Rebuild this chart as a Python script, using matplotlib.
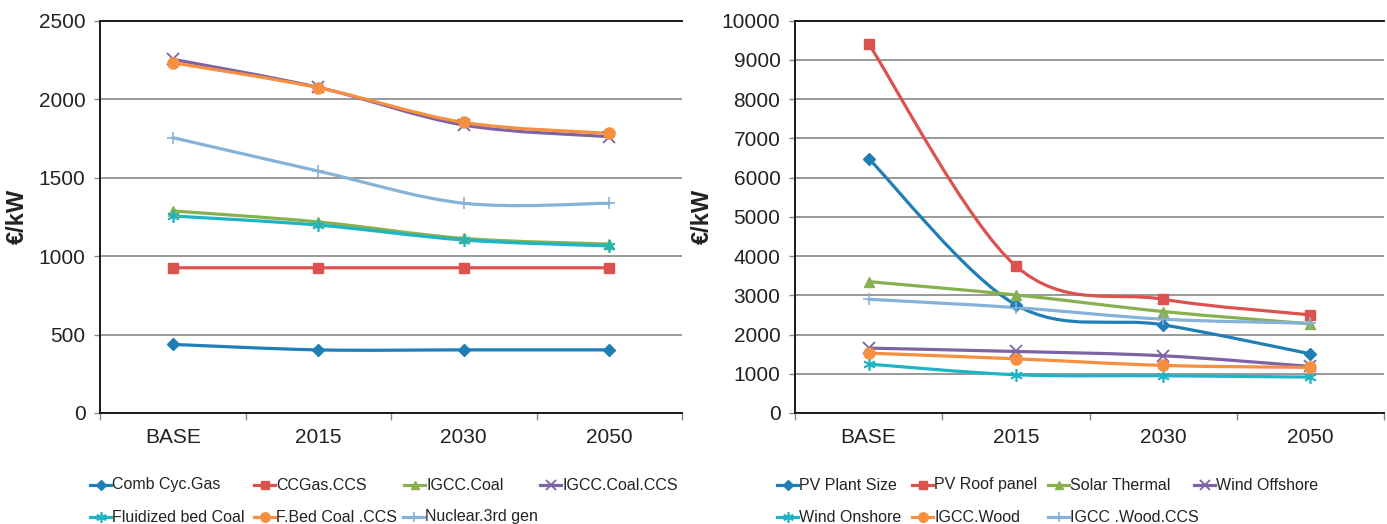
import matplotlib
matplotlib.use("Agg")
import matplotlib.pyplot as plt
from matplotlib.path import Path
from matplotlib.patches import PathPatch
from matplotlib.lines import Line2D
import numpy as np

plt.rcParams['font.family'] = ['Liberation Sans', 'DejaVu Sans']

# ---------------- data ----------------
categories = ["BASE", "2015", "2030", "2050"]

left_names = ["Comb Cyc.Gas", "CCGas.CCS", "IGCC.Coal", "IGCC.Coal.CCS",
              "Fluidized bed Coal", "F.Bed Coal .CCS", "Nuclear.3rd gen"]
comb_cyc_gas = [437, 402, 402, 402]
ccgas_ccs = [925, 925, 925, 925]
igcc_coal = [1287, 1217, 1112, 1076]
igcc_coal_ccs = [2253, 2074, 1834, 1760]
fluidized_bed_coal = [1255, 1197, 1102, 1064]
fbed_coal_ccs = [2231, 2072, 1851, 1781]
nuclear_3rd_gen = [1754, 1541, 1336, 1336]
left_values = [comb_cyc_gas, ccgas_ccs, igcc_coal, igcc_coal_ccs,
               fluidized_bed_coal, fbed_coal_ccs, nuclear_3rd_gen]

right_names = ["PV Plant Size", "PV Roof panel", "Solar Thermal", "Wind Offshore",
               "Wind Onshore", "IGCC.Wood", "IGCC .Wood.CCS"]
pv_plant_size = [6483, 2754, 2246, 1508]
pv_roof_panel = [9407, 3746, 2898, 2500]
solar_thermal = [3347, 3008, 2585, 2271]
wind_offshore = [1653, 1568, 1458, 1186]
wind_onshore = [1246, 975, 949, 915]
igcc_wood = [1525, 1381, 1212, 1161]
igcc_wood_ccs = [2898, 2686, 2390, 2288]
right_values = [pv_plant_size, pv_roof_panel, solar_thermal, wind_offshore,
                wind_onshore, igcc_wood, igcc_wood_ccs]

left_yticks = [0, 500, 1000, 1500, 2000, 2500]
right_yticks = [0, 1000, 2000, 3000, 4000, 5000, 6000, 7000, 8000, 9000, 10000]

# ---------------- styles ----------------
colors = ['#1F7EB5', '#DC524F', '#87B04F', '#7D62A4', '#1DB5C4', '#F68F40', '#86B2D9']
markers = ['D', 's', '^', 'x', (6, 2, 0), 'o', '+']
msizes = [6, 7, 7.5, 8, 9, 8, 9]
mews = [1, 1, 1, 1.3, 1.2, 1, 1.2]

W, H = 1387, 524
fig = plt.figure(figsize=(W / 100, H / 100), dpi=100)


def px_rect(x0, x1, ytop, ybot):
    return [x0 / W, (H - ybot) / H, (x1 - x0) / W, (ybot - ytop) / H]


def smooth_patch(xs, ys, color):
    P = np.column_stack([xs, ys]).astype(float)
    n = len(P)
    verts = [P[0]]
    codes = [Path.MOVETO]
    for i in range(n - 1):
        p_prev = P[i - 1] if i > 0 else P[i]
        p_next2 = P[i + 2] if i + 2 < n else P[i + 1]
        c1 = P[i] + (P[i + 1] - p_prev) / 6.0
        c2 = P[i + 1] - (p_next2 - P[i]) / 6.0
        verts += [c1, c2, P[i + 1]]
        codes += [Path.CURVE4] * 3
    return PathPatch(Path(verts, codes), facecolor='none', edgecolor=color,
                     lw=2.3, capstyle='round', joinstyle='round', zorder=3)


def setup_axes(ax, ymax, yticks, label_x):
    x = np.arange(len(categories))
    ax.set_xlim(-0.5, len(categories) - 0.5)
    ax.set_ylim(0, ymax)
    ax.set_yticks(yticks)
    ax.set_yticklabels([str(t) for t in yticks])
    ax.set_xticks(np.arange(-0.5, len(categories)), labels=[])
    ax.set_xticks(x, minor=True)
    ax.set_xticklabels(categories, minor=True)
    ax.tick_params(axis='x', which='major', length=5, width=1, color='#888888', direction='out')
    ax.tick_params(axis='x', which='minor', length=0, pad=11, labelsize=15, labelcolor='#222222')
    ax.tick_params(axis='y', length=4.5, width=1, color='#888888', direction='out', pad=6,
                   labelsize=15, labelcolor='#222222')
    ax.grid(axis='y', color='#888888', lw=1.2)
    ax.set_axisbelow(True)
    for s in ['left', 'bottom', 'top']:
        ax.spines[s].set_color('#1a1a1a')
        ax.spines[s].set_linewidth(1.4)
    ax.spines['right'].set_visible(False)
    ax.set_ylabel('€/kW', fontsize=17, fontweight='bold', color='#222222')
    ax.yaxis.set_label_coords(label_x, 0.5)


def draw_series(ax, values):
    x = np.arange(len(categories))
    for i, v in enumerate(values):
        ax.add_patch(smooth_patch(x, v, colors[i]))
        ax.plot(x, v, ls='none', marker=markers[i], ms=msizes[i], color=colors[i],
                mec=colors[i], mew=mews[i], zorder=4, clip_on=False)


def draw_legend(names, starts_row1, starts_row2):
    rows = [485, 517]
    starts = [(s, rows[0]) for s in starts_row1] + [(s, rows[1]) for s in starts_row2]
    for i, name in enumerate(names):
        x0, y = starts[i]
        yy = (H - y) / H
        fig.add_artist(Line2D([x0 / W, (x0 + 21) / W], [yy, yy], color=colors[i], lw=2.3,
                              transform=fig.transFigure))
        fig.add_artist(Line2D([(x0 + 10.5) / W], [yy], color=colors[i], marker=markers[i],
                              ms=msizes[i] * 0.85, mew=mews[i], ls='none',
                              transform=fig.transFigure))
        fig.text((x0 + 22) / W, yy, name, fontsize=11.5, color='#222222',
                 va='center', ha='left')


ax1 = fig.add_axes(px_rect(100, 682, 20.5, 413))
setup_axes(ax1, 2500, left_yticks, -0.122)
draw_series(ax1, left_values)

ax2 = fig.add_axes(px_rect(795, 1384, 20.5, 413))
setup_axes(ax2, 10000, right_yticks, -0.137)
draw_series(ax2, right_values)

draw_legend(left_names, [90, 254, 404, 540], [90, 254, 403])
draw_legend(right_names, [777, 912, 1048, 1194], [777, 912, 1048])

fig.savefig('out.png', dpi=100)
